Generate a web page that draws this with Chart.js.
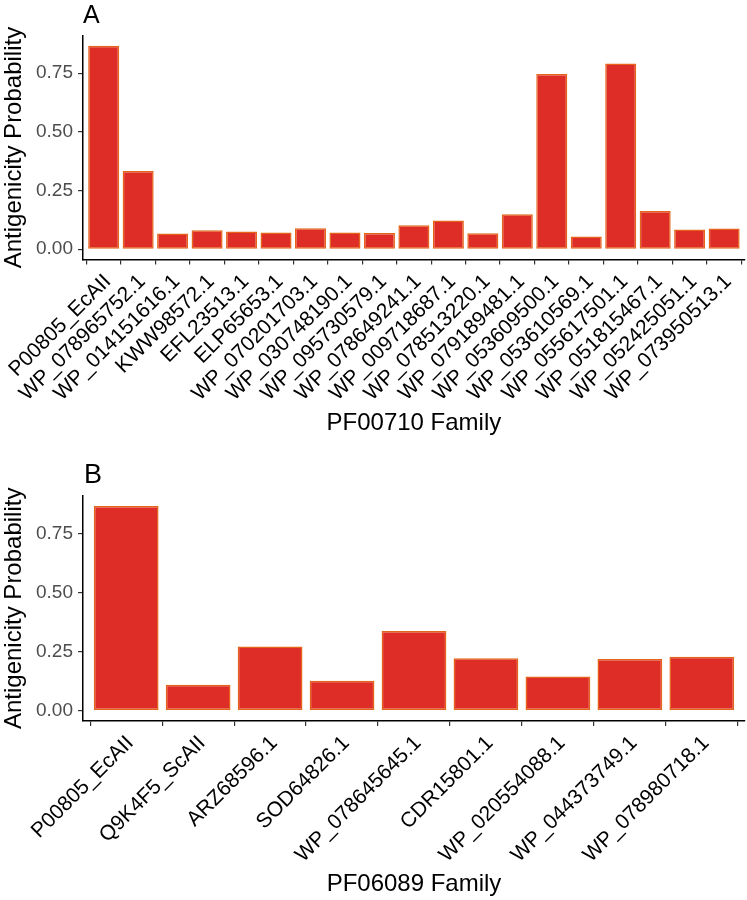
<!DOCTYPE html>
<html>
<head>
<meta charset="utf-8">
<script src="https://cdn.jsdelivr.net/npm/chart.js@4.4.1/dist/chart.umd.min.js"></script>
<style>
  html, body { margin: 0; padding: 0; background: #fff; }
  #wrap { position: relative; width: 747px; height: 900px; }
  canvas { position: absolute; left: 0; }
  #cA { top: 0; }
  #cB { top: 450px; }
</style>
</head>
<body>
<div id="wrap">
  <canvas id="cA" width="747" height="450"></canvas>
  <canvas id="cB" width="747" height="450"></canvas>
</div>
<script>
// ---- Data ----
const labelsA = ["P00805_EcAII", "WP_078965752.1", "WP_014151616.1", "KWW98572.1", "EFL23513.1",
  "ELP65653.1", "WP_070201703.1", "WP_030748190.1", "WP_095730579.1", "WP_078649241.1",
  "WP_009718687.1", "WP_078513220.1", "WP_079189481.1", "WP_053609500.1", "WP_053610569.1",
  "WP_055617501.1", "WP_051815467.1", "WP_052425051.1", "WP_073950513.1"];
const valuesA = [0.866, 0.333, 0.067, 0.081, 0.075, 0.071, 0.089, 0.071, 0.069, 0.102,
  0.122, 0.068, 0.149, 0.746, 0.054, 0.791, 0.163, 0.084, 0.088];

const labelsB = ["P00805_EcAII", "Q9K4F5_ScAII", "ARZ68596.1", "SOD64826.1", "WP_078645645.1",
  "CDR15801.1", "WP_020554088.1", "WP_044373749.1", "WP_078980718.1"];
const valuesB = [0.866, 0.110, 0.271, 0.127, 0.337, 0.222, 0.145, 0.219, 0.228];

const yTicks = [0, 0.25, 0.5, 0.75];
const yTitle = "Antigenicity Probability";
const xTitleA = "PF00710 Family";
const xTitleB = "PF06089 Family";

// ---- Styles ----
const FONT = "'Liberation Sans', Arial, Helvetica, sans-serif";
const BAR_FILL = "#DE2D26";
const BAR_EDGE = "#E6641A";

function tagPlugin(letter, x, y, size) {
  return {
    id: 'tag' + letter,
    afterDraw(chart) {
      const ctx = chart.ctx;
      ctx.save();
      ctx.fillStyle = '#000';
      ctx.font = size + 'px ' + FONT;
      ctx.textAlign = 'left';
      ctx.textBaseline = 'alphabetic';
      ctx.fillText(letter, x, y);
      ctx.restore();
    }
  };
}

function makeChart(canvasId, labels, values, xTitle, opts) {
  const maxV = Math.max(...values);
  const data = values.map((v, i) => ({ x: i, y: v }));
  return new Chart(document.getElementById(canvasId), {
    type: 'bar',
    data: {
      datasets: [{
        data: data,
        backgroundColor: BAR_FILL,
        borderColor: BAR_EDGE,
        borderWidth: 1.5,
        borderSkipped: false,
        barPercentage: 0.9,
        categoryPercentage: 1.0
      }]
    },
    options: {
      responsive: false,
      animation: false,
      devicePixelRatio: 1,
      layout: { padding: { top: opts.top, right: 2, left: 0, bottom: 0 } },
      plugins: { legend: { display: false }, tooltip: { enabled: false }, title: { display: false } },
      scales: {
        x: {
          type: 'linear',
          offset: false,
          min: -0.6,
          max: labels.length - 0.4,
          afterBuildTicks: (s) => { s.ticks = labels.map((_, i) => ({ value: i })); },
          afterFit: (s) => { s.height = opts.xHeight; },
          ticks: {
            autoSkip: false,
            minRotation: 45,
            maxRotation: 45,
            padding: 5,
            labelOffset: 4,
            color: '#000',
            font: { family: FONT, size: 21 },
            callback: (v) => labels[v]
          },
          grid: { drawOnChartArea: false, drawTicks: true, tickLength: 5, color: '#333', lineWidth: 1.2 },
          border: { display: true, color: '#000', width: 1.5 },
          title: {
            display: true,
            text: xTitle,
            color: '#000',
            font: { family: FONT, size: 24 },
            padding: { top: 0, bottom: opts.xTitlePad }
          }
        },
        y: {
          min: -0.05 * maxV,
          max: 1.05 * maxV,
          afterBuildTicks: (s) => { s.ticks = yTicks.map(v => ({ value: v })); },
          afterFit: (s) => { s.width = 83; },
          ticks: {
            padding: 5,
            color: '#4D4D4D',
            font: { family: FONT, size: 19 },
            callback: (v) => Number(v).toFixed(2)
          },
          grid: { drawOnChartArea: false, drawTicks: true, tickLength: 5, color: '#333', lineWidth: 1.2 },
          border: { display: true, color: '#000', width: 1.5 },
          title: {
            display: true,
            text: yTitle,
            color: '#000',
            font: { family: FONT, size: 24 },
            padding: { top: 0, bottom: 0 }
          }
        }
      }
    },
    plugins: [tagPlugin(opts.tag, opts.tagX, opts.tagY, opts.tagSize)]
  });
}

makeChart('cA', labelsA, valuesA, xTitleA,
  { top: 35.7, xHeight: 190.6, xTitlePad: 12, tag: 'A', tagX: 83, tagY: 22.5, tagSize: 25 });
makeChart('cB', labelsB, valuesB, xTitleB,
  { top: 45.7, xHeight: 179.1, xTitlePad: 1, tag: 'B', tagX: 84, tagY: 32.5, tagSize: 27 });
</script>
</body>
</html>
